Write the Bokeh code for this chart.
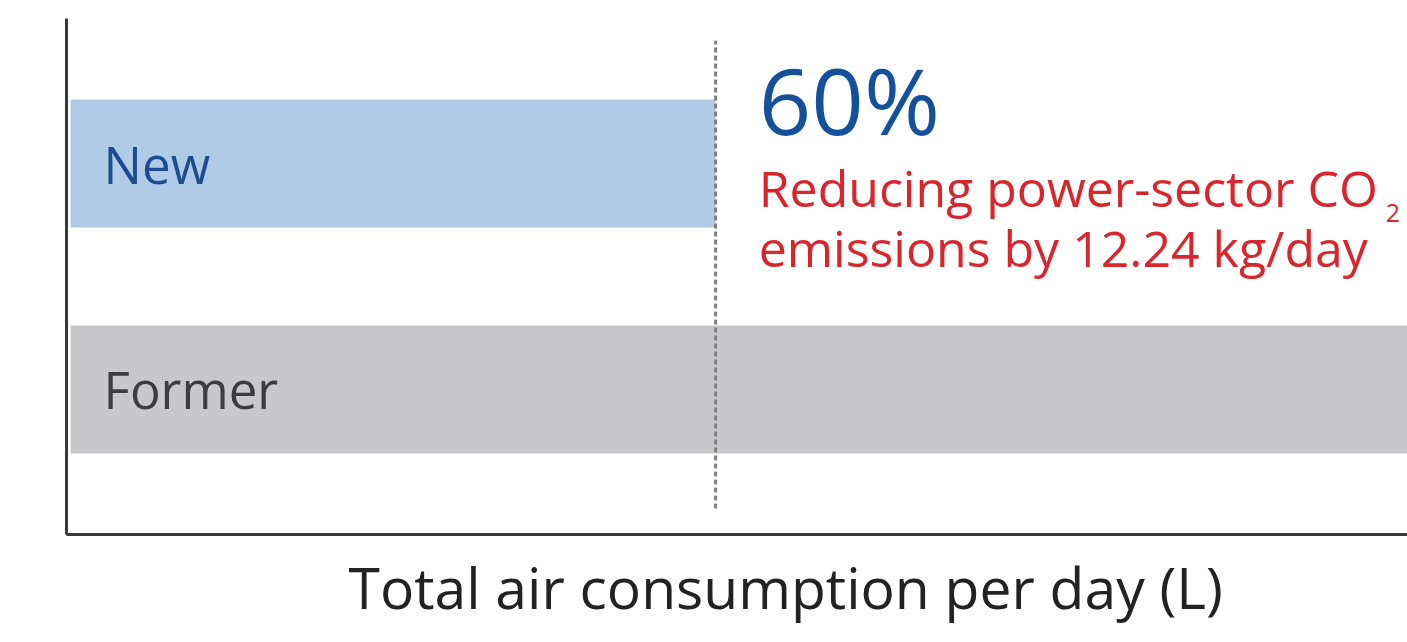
from bokeh.plotting import figure
from bokeh.models import FactorRange, Range1d, ColumnDataSource, Title
from bokeh.core.properties import value
from bokeh.embed import file_html
from bokeh.resources import INLINE

# ---- data ----
categories = ["Former", "New"]
consumption = [100, 40]          # relative total air consumption per day
bar_colors = ["#c8c8ca", "#afcbe6"]
label_colors = ["#3d3d3d", "#1d4b94"]
reduction_pct = "60%"
note_line1 = "Reducing power-sector CO"
note_sub = "2"
note_line2 = "emissions by 12.24 kg/day"
x_label = "Total air consumption per day (L)"

FONT = "Open Sans"

p = figure(
    width=1407, height=642,
    y_range=FactorRange(factors=categories, range_padding=0.142, range_padding_units="absolute"),
    x_range=Range1d(-0.25, 82.9),
    output_backend="svg", toolbar_location=None,
    min_border_left=66, min_border_right=0, min_border_top=18, min_border_bottom=108,
)
p.outline_line_color = None
p.grid.visible = False
p.background_fill_color = "white"
p.border_fill_color = "white"

src = ColumnDataSource(dict(cat=categories, val=consumption, color=bar_colors,
                            tcolor=label_colors, lx=[2.05, 2.05]))
p.hbar(y="cat", left=0, right="val", height=0.566, color="color", source=src, line_color=None)

p.text(x="lx", y="cat", text="cat", text_color="tcolor", text_font=value(FONT),
       text_font_size="51px", text_baseline="middle", text_align="left", source=src)

# dotted reference line at the New value
new_val = consumption[categories.index("New")]
p.segment(x0=[new_val], y0=[-0.027], x1=[new_val], y1=[2.044],
          line_color="#7f7f7f", line_width=3, line_dash="5 3")

tx = new_val + 2.67
p.text(x=[tx], y=[1.785], text=[reduction_pct], text_color="#14509c",
       text_font=value(FONT), text_font_size="92px", text_baseline="middle")
p.text(x=[tx, tx], y=[1.393, 1.128], text=[note_line1, note_line2], text_color="#d8262c",
       text_font=value(FONT), text_font_size="50px", text_baseline="middle")
p.text(x=[81.55], y=[1.283], text=[note_sub], text_color="#d8262c",
       text_font=value(FONT), text_font_size="25px", text_baseline="middle")

# axes: lines only
for ax in (p.xaxis[0], p.yaxis[0]):
    ax.axis_line_color = "#383838"
    ax.axis_line_width = 3
    ax.major_tick_line_color = None
    ax.minor_tick_line_color = None
    ax.major_label_text_font_size = "0px"
    ax.major_label_text_color = None

p.add_layout(Title(text=x_label, align="left", offset=282, text_font=FONT,
                   text_font_size="57px", text_font_style="normal",
                   text_color="#222222", standoff=10), "below")

open("out.html", "w").write(file_html(p, INLINE))
